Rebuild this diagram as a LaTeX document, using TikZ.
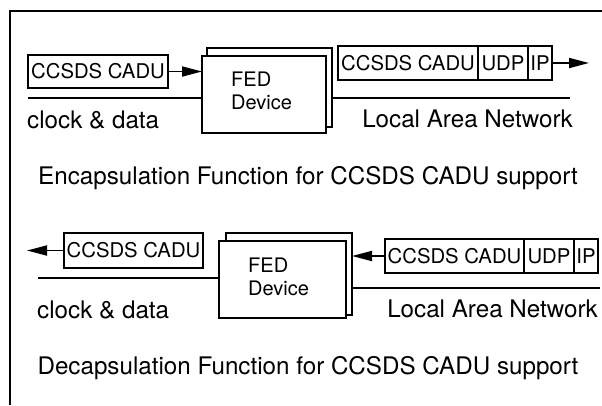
\documentclass[tikz,border=0pt]{standalone}
\usepackage{fontspec}
\setmainfont{TeX Gyre Heros}
\usetikzlibrary{arrows.meta}
\begin{document}
\begin{tikzpicture}[x=1pt,y=-1pt,
  box/.style={draw, line width=1.6pt, inner sep=0pt, outer sep=0pt, fill=white,
    font=\fontsize{20.3}{24}\selectfont},
  lbl/.style={inner sep=0pt, font=\fontsize{24.2}{28}\selectfont},
  fedtxt/.style={inner sep=0pt, align=left, font=\fontsize{20}{23}\selectfont},
  arr/.style={line width=1.8pt, -{Triangle[length=20pt,width=10pt]}},
  wire/.style={line width=2.2pt}
]
\useasboundingbox (0,0) rectangle (602,405);
% frame
\draw[line width=2.2pt] (10,405) -- (10,11) -- (602,11);

% ---------- top: encapsulation ----------
\node[box, minimum width=140pt, minimum height=33pt] (in1) at (98,71.5) {CCSDS CADU};
\node[box, minimum width=125pt, minimum height=79pt] (fed1b) at (269.5,87.5) {};
\node[box, minimum width=124pt, minimum height=77pt] (fed1) at (264,94.5) {};
\node[fedtxt, anchor=west] (fed1t) at (231,91) {FED\\Device};
\coordinate (c1) at (28,98);
\draw[arr] (in1.east) -- (in1.east -| fed1.west);
\draw[wire] (c1) -- (c1 -| fed1.west);
\node[lbl, anchor=west] (cd1) at (27,120) {clock \& data};

\node[box, minimum width=140pt, minimum height=34pt] (p1a) at (408,63) {CCSDS CADU};
\node[box, minimum width=50pt, minimum height=34pt] (p1b) at (503,63) {UDP};
\node[box, minimum width=24pt, minimum height=34pt] (p1c) at (540,63) {IP};
\coordinate (o1) at (589,63);
\draw[arr] (p1c.east) -- (o1);
\coordinate (l1) at (570,98);
\draw[wire] (l1 -| fed1b.east) -- (l1);
\node[lbl, anchor=east] (lan1) at (573,119) {Local Area Network};
\node[lbl] (cap1) at (308,178) {Encapsulation Function for CCSDS CADU support};

% ---------- bottom: decapsulation ----------
\node[box, minimum width=139pt, minimum height=35pt] (out2) at (133.5,250.5) {CCSDS CADU};
\coordinate (o2) at (27,250.5);
\draw[arr] (out2.west) -- (o2);
\node[box, minimum width=126pt, minimum height=82pt] (fed2b) at (289,274) {};
\node[box, minimum width=127pt, minimum height=77pt] (fed2) at (282.5,279.5) {};
\node[fedtxt, anchor=west] (fed2t) at (248,277) {FED\\Device};
\coordinate (c2) at (38,278);
\draw[wire] (c2) -- (c2 -| fed2.west);
\node[lbl, anchor=west] (cd2) at (37,310) {clock \& data};

\node[box, minimum width=139pt, minimum height=34pt] (p2a) at (454.5,256) {CCSDS CADU};
\node[box, minimum width=50pt, minimum height=34pt] (p2b) at (549,256) {UDP};
\node[box, minimum width=24pt, minimum height=34pt] (p2c) at (586,256) {IP};
\draw[arr] (p2a.west) -- (p2a.west -| fed2b.east);
\coordinate (l2) at (600,288);
\draw[wire] (l2 -| fed2b.east) -- (l2);
\node[lbl, anchor=east] (lan2) at (598,309) {Local Area Network};
\node[lbl] (cap2) at (308,368) {Decapsulation Function for CCSDS CADU support};
\end{tikzpicture}
\end{document}
